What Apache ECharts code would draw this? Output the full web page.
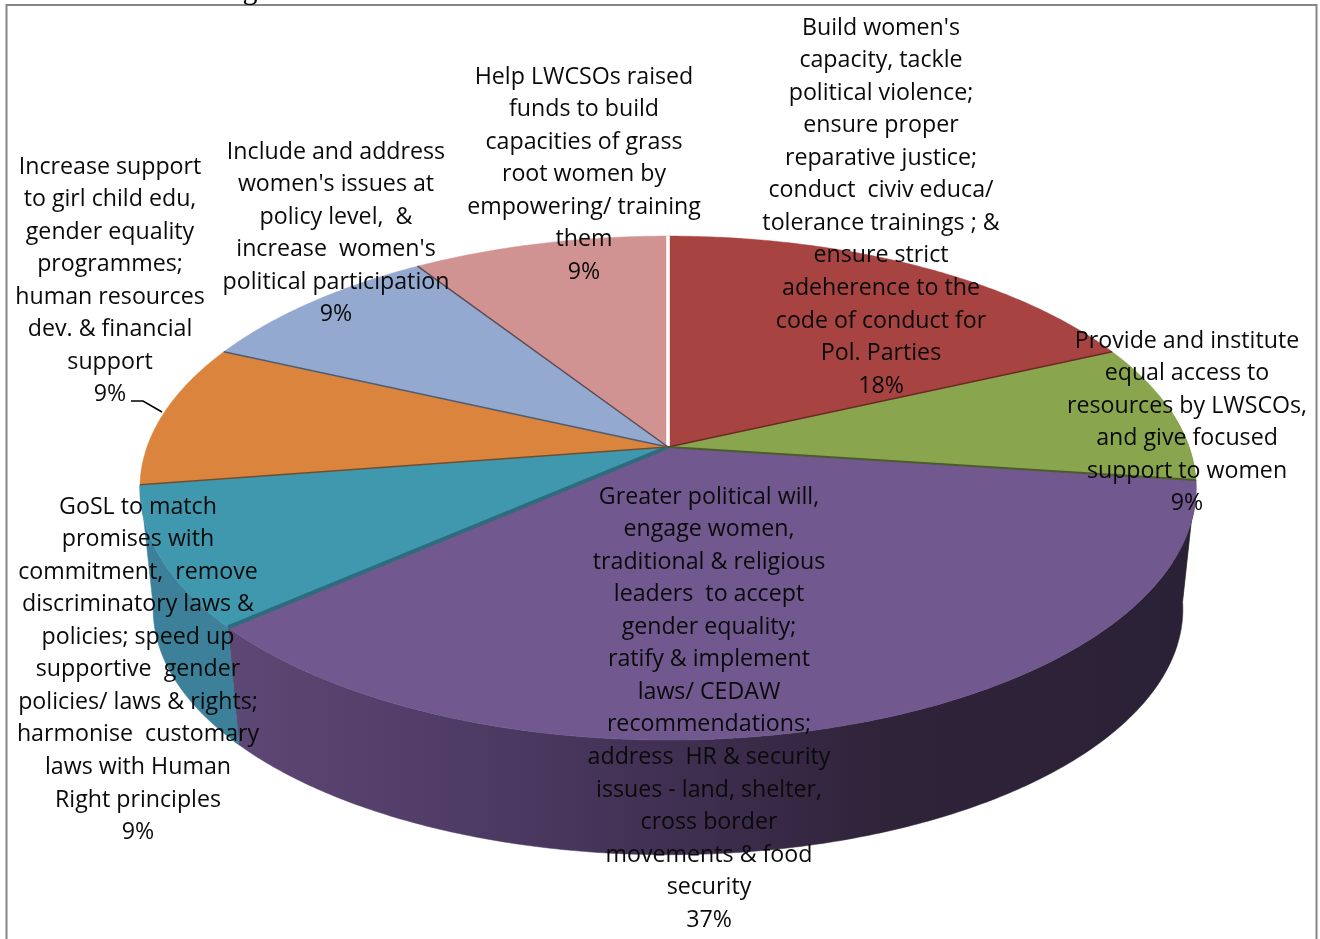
<!DOCTYPE html>
<html><head><meta charset="utf-8">
<style>html,body{margin:0;padding:0;background:#fff}#c{width:1320px;height:939px}</style>
<script src="https://cdn.jsdelivr.net/npm/echarts@6/dist/echarts.min.js"></script>
</head><body><div id="c"></div>
<script>
// ---- data ----
var categories = [
  "Build women's\ncapacity, tackle\npolitical violence;\nensure proper\nreparative justice;\nconduct  civiv educa/\ntolerance trainings ; &\nensure strict\nadeherence to the\ncode of conduct for\nPol. Parties",
  "Provide and institute\nequal access to\nresources by LWSCOs,\nand give focused\nsupport to women",
  "Greater political will,\nengage women,\ntraditional & religious\nleaders  to accept\ngender equality;\nratify & implement\nlaws/ CEDAW\nrecommendations;\naddress  HR & security\nissues - land, shelter,\ncross border\nmovements & food\nsecurity",
  "GoSL to match\npromises with\ncommitment,  remove\ndiscriminatory laws &\npolicies; speed up\nsupportive  gender\npolicies/ laws & rights;\nharmonise  customary\nlaws with Human\nRight principles",
  "Increase support\nto girl child edu,\ngender equality\nprogrammes;\nhuman resources\ndev. & financial\nsupport",
  "Include and address\nwomen's issues at\npolicy level,  &\nincrease  women's\npolitical participation",
  "Help LWCSOs raised\nfunds to build\ncapacities of grass\nroot women by\nempowering/ training\nthem"
];
var values = [18.2, 8.9, 36.5, 9.0, 9.2, 9.0, 9.2];

// ---- styling and layout ----
var faceColors = ['#A74341','#89A54E','#71588F','#4098AF','#DB843D','#93A9CF','#D19392'];
var wallColors = ['#6e2b2a','#5f7a2f',null,'#3c8099',null,null,null];
var edgeColors = ['#ffffff','#6e2725','#4c5c2a','#2f6b7e','#6a5030','#4f5c72','#5c4a55'];
var edgeWidths = [3.6,1.5,2,4,1.5,1.5,1.5];
var labelCenters = [881,1187,709,138,110,336,584];
var labelFirstLine = [28,341,497,507,167,152,77];
var lineStep = 32.55, fontSize = 23.2, fontFamily = 'Open Sans';

// perspective projection of the pie's circular top onto the page
var apexX = 668, apexY = 447, ax = 521, ay = 245.3, k = 0.163;
var baseApexY = 569, baseScale = 0.975;
function topPt(t){
  var x = Math.sin(t), y = -Math.cos(t), w = 1 - k*y;
  return [apexX + ax*x/w, apexY + ay*y/w];
}
function bottomPt(t){
  var p = topPt(t);
  return [apexX + baseScale*(p[0]-apexX), baseApexY + baseScale*(p[1]-apexY)];
}
var total = values.reduce(function(a,b){return a+b;},0);
var starts = [], s0 = 0;
values.forEach(function(v){ starts.push(s0); s0 += v; });
function ang(v){ return v/total*2*Math.PI; }
function arc(fn,a,b){
  var n = Math.max(4, Math.ceil(Math.abs(b-a)/0.01)), out = [];
  for (var i=0;i<=n;i++) out.push(fn(a+(b-a)*i/n));
  return out;
}
var frontMin = 80*Math.PI/180, frontMax = 264*Math.PI/180;

function renderWall(params, api){
  var i = params.dataIndex;
  var a = Math.max(ang(starts[i]), frontMin), b = Math.min(ang(starts[i]+api.value(0)), frontMax);
  if (b <= a) return null;
  var pts = arc(topPt,a,b).concat(arc(bottomPt,b,a));
  var fill = wallColors[i];
  if (i === 2) fill = {type:'linear',x:235,y:0,x2:1190,y2:0,global:true,colorStops:[
    {offset:0,color:'#5d4774'},{offset:0.27,color:'#4d3a63'},{offset:0.5,color:'#3d2d4e'},
    {offset:0.68,color:'#2f2339'},{offset:1,color:'#2b2136'}]};
  var children = [{type:'polygon',shape:{points:pts},style:{fill:fill,stroke:fill,lineWidth:0.5}}];
  if (i === 2){
    var tt = topPt(b), bb = bottomPt(b);
    children.push({type:'polygon',shape:{points:[[tt[0],tt[1]],[tt[0]-5,tt[1]+3],[bb[0]-5,bb[1]-3],[bb[0],bb[1]]]},
      style:{fill:'#2f6b7e'}});
  }
  return {type:'group',children:children};
}
function renderFace(params, api){
  var i = params.dataIndex;
  var a = ang(starts[i]), b = ang(starts[i]+api.value(0));
  var pts = [[apexX,apexY]].concat(arc(topPt,a,b));
  return {type:'polygon',shape:{points:pts},style:{fill:faceColors[i],stroke:faceColors[i],lineWidth:0.5}};
}
function renderEdge(params, api){
  var i = params.dataIndex;
  var p = topPt(ang(starts[i]));
  return {type:'line',shape:{x1:apexX,y1:apexY,x2:p[0],y2:p[1]},
    style:{stroke:edgeColors[i],lineWidth:edgeWidths[i]}};
}
function renderLabel(params, api){
  var i = params.dataIndex;
  return {type:'text',style:{
    x:labelCenters[i], y:labelFirstLine[i]-lineStep/2,
    text:categories[i]+'\n'+Math.round(api.value(0)/total*100)+'%',
    align:'center',verticalAlign:'top',
    fontFamily:fontFamily,fontSize:fontSize,lineHeight:lineStep,fill:'#0a0a0a'}};
}
function layer(name,z,fn){
  return {type:'custom',name:name,coordinateSystem:'none',z:z,silent:true,clip:false,
    renderItem:fn,data:values.map(function(v){return [v];})};
}
var chart = echarts.init(document.getElementById('c'),null,{renderer:'canvas'});
chart.setOption({
  animation:false,
  backgroundColor:'#fff',
  tooltip:{show:false},
  graphic:[
    {type:'rect',z:1,silent:true,shape:{x:6.5,y:5,width:1310,height:960},style:{fill:'none',stroke:'#868686',lineWidth:2}},
    {type:'text',z:1,silent:true,style:{x:250,y:-24,text:'g',fontFamily:'Liberation Serif',fontSize:30,fill:'#000',align:'center',verticalAlign:'top'}},
    {type:'polyline',z:50,silent:true,shape:{points:[[131,401],[143,401],[162,412]]},style:{stroke:'#000',lineWidth:1.6,fill:'none'}}
  ],
  series:[
    layer('walls',2,renderWall),
    layer('faces',3,renderFace),
    layer('edges',4,renderEdge),
    layer('labels',5,renderLabel)
  ]
});
</script></body></html>
